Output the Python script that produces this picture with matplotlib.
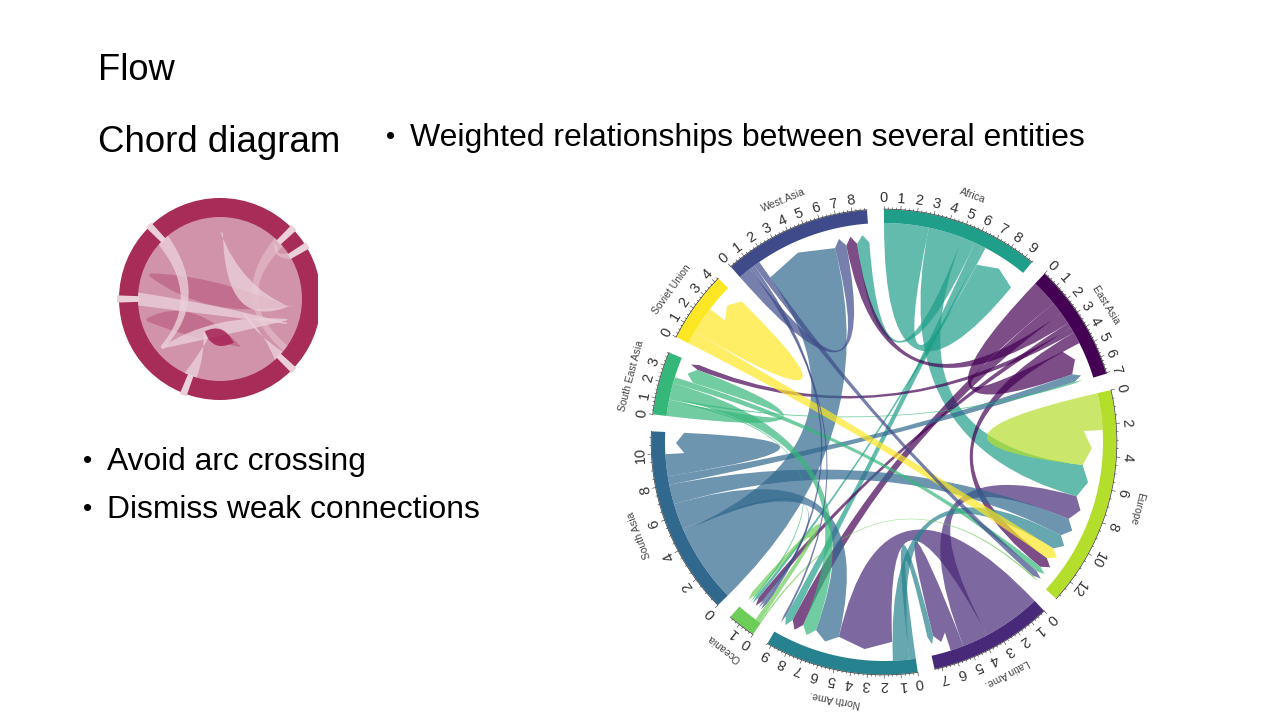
import numpy as np
import matplotlib
matplotlib.use("Agg")
import matplotlib.pyplot as plt
from matplotlib.path import Path
from matplotlib.patches import PathPatch, Circle, Rectangle

plt.rcParams['font.family'] = ['Liberation Sans', 'DejaVu Sans']

# ---------- chord data ----------
sectors = ["Africa", "East Asia", "Europe", "Latin Ame.", "North Ame.", "Oceania",
           "South Asia", "South East Asia", "Soviet Union", "West.Asia"]
sector_colors = ["#1F9E89", "#440154", "#B4DE2C", "#482878", "#26828E", "#6DCD59",
                 "#31688E", "#35B779", "#FDE725", "#3E4A89"]
label_steps = [1, 1, 2, 1, 1, 1, 2, 1, 1, 1]

# flows, listed per origin in the order they leave the origin sector
flow_from = ["Africa"] * 5 + ["East Asia"] * 6 + ["Europe"] + ["Latin Ame."] * 3 + \
            ["North Ame."] * 2 + ["Oceania"] * 2 + ["South Asia"] * 6 + \
            ["South East Asia"] * 5 + ["Soviet Union"] * 2 + ["West.Asia"] * 4
flow_to = ["Africa", "Europe", "West.Asia", "North Ame.", "Oceania",
           "East Asia", "North Ame.", "West.Asia", "Oceania", "South East Asia", "Europe",
           "Europe",
           "North Ame.", "Europe", "Latin Ame.",
           "Latin Ame.", "Europe",
           "Europe", "Oceania",
           "West.Asia", "Oceania", "North Ame.", "Europe", "East Asia", "South Asia",
           "South East Asia", "Oceania", "East Asia", "North Ame.", "Europe",
           "Europe", "Soviet Union",
           "West.Asia", "North Ame.", "Oceania", "Europe"]
flow_val = [2.85, 2.2, 0.85, 0.55, 0.2,
            1.7, 0.8, 0.75, 0.35, 0.35, 0.75,
            2.35,
            3.7, 1.65, 0.85,
            0.4, 1.05,
            0.1, 0.3,
            4.95, 0.15, 1.65, 1.25, 0.55, 1.4,
            0.95, 0.1, 0.1, 0.95, 0.4,
            0.8, 1.75,
            0.8, 0.15, 0.2, 0.4]

# order in which flows arrive inside each destination sector
arrive_order = {
    "Africa": ["Africa"],
    "East Asia": ["East Asia", "South Asia", "South East Asia"],
    "Europe": ["Europe", "Africa", "Latin Ame.", "South Asia", "North Ame.", "Soviet Union",
               "East Asia", "South East Asia", "West.Asia", "Oceania"],
    "Latin Ame.": ["Latin Ame.", "North Ame."],
    "North Ame.": ["Latin Ame.", "South Asia", "South East Asia", "East Asia", "Africa", "West.Asia"],
    "Oceania": ["West.Asia", "South Asia", "East Asia", "Africa", "South East Asia", "Oceania"],
    "South Asia": ["South Asia"],
    "South East Asia": ["South East Asia", "East Asia"],
    "Soviet Union": ["Soviet Union"],
    "West.Asia": ["South Asia", "West.Asia", "East Asia", "Africa"],
}

# ---------- slide text ----------
title_text = "Flow"
subtitle_text = "Chord diagram"
top_bullet = "Weighted relationships between several entities"
side_bullets = ["Avoid arc crossing", "Dismiss weak connections"]

# ---------- small icon ----------
icon_gaps = [134, 180, 44, 31.5, -44, -111]
# from angle, from width, from r, to angle, to width, to r, ctrl1 (angle, r), ctrl2 (angle, r)
icon_band_soft = [(44, 8, 1.0, -37, 5, 1.0, 0, 0.13, 0, 0.06),
                  (31.5, 5, 1.0, 44, 4, 0.95, 38, 0.80, 38, 0.85)]
icon_band_dark = [(161, 2, 0.91, -6, 1, 0.82, 121, 0.36, -125, 0.30),
                  (-164, 2, 0.93, -67, 1, 0.63, 170, 0.35, -131, 0.62)]
icon_band_light = [(134, 9, 1.0, -140, 3, 0.93, 177, 0.10, 177, 0.22),
                   (180, 9, 1.0, -20, 1, 0.87, -144, 0.10, -144, 0.30),
                   (-140, 1, 0.93, -17, 1, 0.86, -120, 0.20, -90, 0.46),
                   (-111, 9, 1.0, -111, 12, 0.45, -110, 0.7, -105, 0.7),
                   (-44, 8, 1.0, -31, 1, 0.33, -38, 0.7, -45, 0.6),
                   (88.5, 2, 0.81, -6, 1, 0.86, -82, 0.42, 29, 0.30)]
icon_core = [(-115, 1, 0.44, -73, 1, 0.56, -82, 0.28, -98, 0.66)]

# ---------- layout ----------
cx, cy = 884, 442
R_IN, R_OUT = 219.0, 232.5
R_TIP, R_SHOULDER = 208.0, 200.0
GAP = 4.2
SHALLOW = 5.0

fig = plt.figure(figsize=(12.8, 7.2), dpi=100)
ax = fig.add_axes([0, 0, 1, 1])
ax.set_xlim(0, 1280)
ax.set_ylim(720, 0)
ax.axis("off")


def pt(ang, r, c=(cx, cy)):
    a = np.deg2rad(ang)
    return (c[0] + r * np.cos(a), c[1] - r * np.sin(a))


def arc(a1, a2, r, n=24):
    return [pt(a, r) for a in np.linspace(a1, a2, n)]


def ctrl_point(a, b, r):
    """Quadratic control: the centre, unless both ends nearly touch."""
    d = abs((a - b + 180) % 360 - 180)
    if d >= SHALLOW:
        return (cx, cy)
    m = a + ((b - a + 180) % 360 - 180) / 2
    return pt(m, r * (1 - d / SHALLOW))


names = {n: i for i, n in enumerate(sectors)}
out_sum = np.zeros(len(sectors))
in_sum = np.zeros(len(sectors))
for f, t, v in zip(flow_from, flow_to, flow_val):
    out_sum[names[f]] += v
    in_sum[names[t]] += v
totals = out_sum + in_sum
unit = (360 - GAP * len(sectors)) / totals.sum()

starts = {}
a = 90.0
for n, tot in zip(sectors, totals):
    starts[n] = a
    a -= tot * unit + GAP

in_val = {(f, t): v for f, t, v in zip(flow_from, flow_to, flow_val)}
in_slot = {}
for n in sectors:
    pos = out_sum[names[n]]
    for src in arrive_order[n]:
        v = in_val[(src, n)]
        in_slot[(src, n)] = (pos, pos + v)
        pos += v

out_pos = {n: 0.0 for n in sectors}
for f, t, v in zip(flow_from, flow_to, flow_val):
    p = out_pos[f]
    out_pos[f] = p + v
    a1 = starts[f] - p * unit
    a2 = starts[f] - (p + v) * unit
    s1, s2 = in_slot[(f, t)]
    b1 = starts[t] - s1 * unit
    b2 = starts[t] - s2 * unit
    verts = arc(a1, a2, R_IN, 8)
    codes = [Path.MOVETO] + [Path.LINETO] * 7
    verts += [ctrl_point(a2, b1, R_SHOULDER), pt(b1, R_SHOULDER)]
    codes += [Path.CURVE3, Path.CURVE3]
    verts += [pt((b1 + b2) / 2, R_TIP), pt(b2, R_SHOULDER)]
    codes += [Path.LINETO, Path.LINETO]
    verts += [ctrl_point(b2, a1, R_SHOULDER), pt(a1, R_IN)]
    codes += [Path.CURVE3, Path.CURVE3]
    ax.add_patch(PathPatch(Path(verts, codes), facecolor=sector_colors[names[f]],
                           alpha=0.7, lw=0, zorder=2))

# tracks, axes, labels
for n, tot, col, step in zip(sectors, totals, sector_colors, label_steps):
    s = starts[n]
    e = s - tot * unit
    poly = arc(s, e, R_OUT) + arc(e, s, R_IN)
    ax.add_patch(plt.Polygon(poly, closed=True, facecolor=col, lw=0, zorder=3))
    ax.plot(*zip(*arc(s, e, R_OUT + 0.4)), color="#333333", lw=0.5, zorder=4)
    minor = 0.5 if step == 2 else 0.25
    for v in np.arange(0, tot + 1e-6, minor):
        ang = s - v * unit
        is_major = abs(v - round(v)) < 1e-6 and int(round(v)) % step == 0
        L = 3.5 if is_major else 1.5
        ax.plot(*zip(pt(ang, R_OUT + 0.4), pt(ang, R_OUT + 0.4 + L)), color="#333333", lw=0.4, zorder=4)
        if is_major:
            x, y = pt(ang, R_OUT + 11)
            ax.text(x, y, str(int(round(v))), fontsize=10.5, color="#333333", ha="center", va="center",
                    rotation=ang - 90, rotation_mode="anchor")
    mid = (s + e) / 2
    x, y = pt(mid, R_OUT + 29)
    ax.text(x, y, n, fontsize=7.5, color="#444444", ha="center", va="center",
            rotation=mid - 90, rotation_mode="anchor")

# ---------- icon ----------
ic = (220, 299)
IR_OUT, IR_IN = 101, 82
clip = Rectangle((110, 190), 208, 220, transform=ax.transData)


def add_icon(p):
    ax.add_patch(p)
    p.set_clip_path(clip)


add_icon(Circle(ic, IR_OUT, facecolor="#A82C58", lw=0, zorder=2))
add_icon(Circle(ic, IR_IN, facecolor="#D193A9", lw=0, zorder=2))
for g in icon_gaps:
    w = 2.0
    add_icon(plt.Polygon([pt(g + w, IR_OUT + 2, ic), pt(g - w, IR_OUT + 2, ic),
                          pt(g - w, IR_IN - 1, ic), pt(g + w, IR_IN - 1, ic)],
                         facecolor="#EBCFD9", lw=0, zorder=3))


def icon_ribbon(spec, color, alpha, z):
    a0, w0, r0, a1, w1, r1, ca, cr, da, dr = spec
    c1 = pt(ca, cr * IR_IN, ic)
    c2 = pt(da, dr * IR_IN, ic)
    verts = [pt(a0 + w0 / 2, r0 * IR_IN, ic), pt(a0 - w0 / 2, r0 * IR_IN, ic), c1,
             pt(a1 + w1 / 2, r1 * IR_IN, ic), pt(a1 - w1 / 2, r1 * IR_IN, ic), c2,
             pt(a0 + w0 / 2, r0 * IR_IN, ic)]
    codes = [Path.MOVETO, Path.LINETO, Path.CURVE3, Path.CURVE3, Path.LINETO, Path.CURVE3, Path.CURVE3]
    add_icon(PathPatch(Path(verts, codes), facecolor=color, alpha=alpha, lw=0, zorder=z))


for sp in icon_band_soft:
    icon_ribbon(sp, "#EBCFD9", 0.45, 4)
for sp in icon_band_dark:
    icon_ribbon(sp, "#B8567C", 0.6, 4)
for sp in icon_band_light:
    icon_ribbon(sp, "#EBCFD9", 0.8, 5)
for sp in icon_core:
    icon_ribbon(sp, "#A8295A", 0.9, 6)

# ---------- text ----------
ax.text(98, 70, title_text, fontsize=26.2, color="black", va="center", ha="left")
ax.text(98, 142, subtitle_text, fontsize=26.4, color="black", va="center", ha="left")
ax.text(386, 137, "•", fontsize=19, color="black", va="center", ha="left")
ax.text(410, 138, top_bullet, fontsize=23.0, color="black", va="center", ha="left")
for y, s in zip([462, 510], side_bullets):
    ax.text(83, y - 1, "•", fontsize=19, color="black", va="center", ha="left")
    ax.text(107, y, s, fontsize=22.9, color="black", va="center", ha="left")

fig.savefig("out.png", dpi=100)
